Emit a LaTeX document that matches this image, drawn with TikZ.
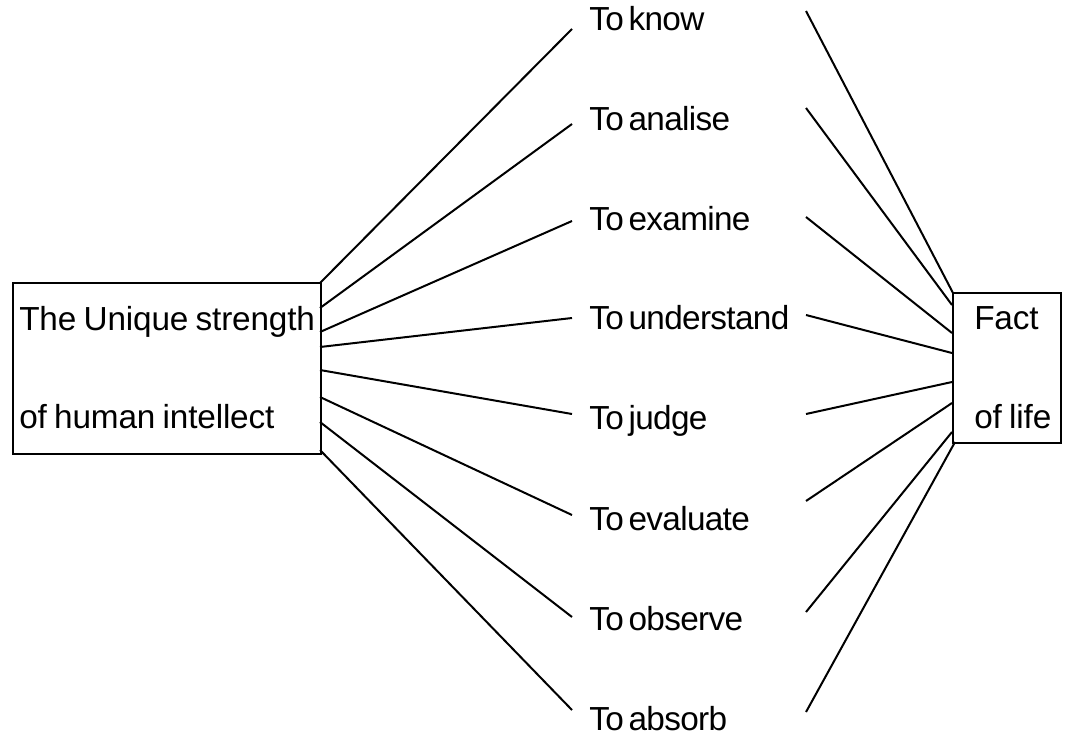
\documentclass[tikz,border=0pt]{standalone}
\usepackage{fontspec}
\setmainfont[LetterSpace=-2,WordSpace=0.55]{Liberation Sans}
\newfontfamily\boxfont[LetterSpace=-0.5,WordSpace=0.8]{Liberation Sans}
\usepackage{tikz}

\tikzset{
  txt/.style={anchor=base west,inner sep=0.75pt,font=\fontsize{25}{29}\selectfont},
  boxtxt/.style={txt,font=\boxfont\fontsize{25}{29}\selectfont},
  box/.style={draw,line width=1.5pt,anchor=north west,inner sep=0pt},
  wire/.style={line width=1.5pt}
}

\begin{document}
\begin{tikzpicture}[x=0.75pt,y=0.75pt,yscale=-1,xscale=1]
\useasboundingbox (0,0) rectangle (1069,739);

%Shape: Rectangle
\node [box,minimum width=231pt,minimum height=128.25pt] (strength) at (12,282) {};
%Shape: Rectangle
\node [box,minimum width=81pt,minimum height=112.5pt] (fact) at (952,292) {};

% Text Node
\node [boxtxt] (strength1) at (18,330) {The Unique strength};
% Text Node
\node [boxtxt] (strength2) at (18,428) {of human intellect};
% Text Node
\node [boxtxt] (fact1) at (973,329) {Fact};
% Text Node
\node [boxtxt] (fact2) at (973,428) {of life};

% Text Node
\node [txt] (know) at (588,30) {To know};
% Text Node
\node [txt] (analise) at (588,130) {To analise};
% Text Node
\node [txt] (examine) at (588,230) {To examine};
% Text Node
\node [txt] (understand) at (588,329) {To understand};
% Text Node
\node [txt] (judge) at (588,429) {To judge};
% Text Node
\node [txt] (evaluate) at (588,530) {To evaluate};
% Text Node
\node [txt] (observe) at (588,630) {To observe};
% Text Node
\node [txt] (absorb) at (588,730) {To absorb};

% ends of the lines at the boxes
\coordinate (h1) at (320,283); \coordinate (f1) at (953,293);
\coordinate (h2) at (320,308); \coordinate (f2) at (952,305);
\coordinate (h3) at (320,332); \coordinate (f3) at (952,333);
\coordinate (h4) at (320,347); \coordinate (f4) at (952,353);
\coordinate (h5) at (320,370); \coordinate (f5) at (952,382);
\coordinate (h6) at (320,397); \coordinate (f6) at (952,403);
\coordinate (h7) at (320,422); \coordinate (f7) at (952,432);
\coordinate (h8) at (320,450); \coordinate (f8) at (955,442);

% ends of the lines at the words
\coordinate (know-l) at (572,29);        \coordinate (know-r) at (806,11);
\coordinate (analise-l) at (572,124);    \coordinate (analise-r) at (806,108);
\coordinate (examine-l) at (572,221);    \coordinate (examine-r) at (806,217);
\coordinate (understand-l) at (572,318); \coordinate (understand-r) at (806,315);
\coordinate (judge-l) at (572,414);      \coordinate (judge-r) at (806,414);
\coordinate (evaluate-l) at (572,515);   \coordinate (evaluate-r) at (806,501);
\coordinate (observe-l) at (572,617);    \coordinate (observe-r) at (806,612);
\coordinate (absorb-l) at (572,710);     \coordinate (absorb-r) at (806,712);

%Straight Lines
\foreach \i/\w in {1/know,2/analise,3/examine,4/understand,5/judge,6/evaluate,7/observe,8/absorb}{
  \draw [wire] (h\i) -- (\w-l) ;
  \draw [wire] (\w-r) -- (f\i) ;
}

\end{tikzpicture}
\end{document}
